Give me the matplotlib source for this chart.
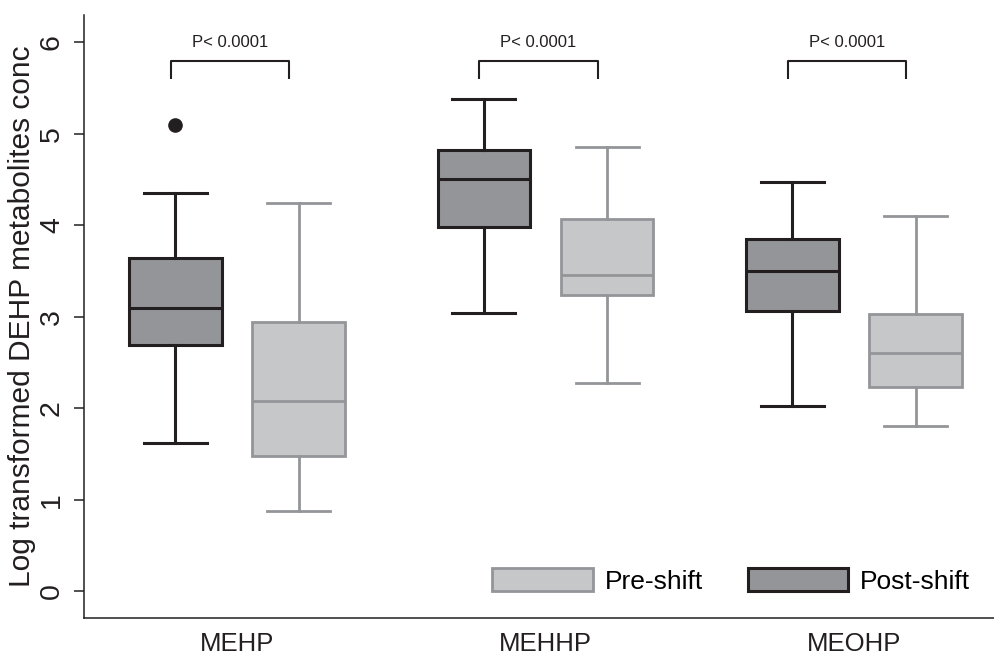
import matplotlib
matplotlib.use("Agg")
import matplotlib.pyplot as plt
from matplotlib.patches import Patch

plt.rcParams['font.family'] = ['Liberation Sans', 'DejaVu Sans']

# metabolites and box stats (log scale)
metabolites = ["MEHP", "MEHHP", "MEOHP"]

post_low = [1.62, 3.04, 2.03]
post_q1 = [2.69, 3.98, 3.07]
post_med = [3.10, 4.51, 3.50]
post_q3 = [3.65, 4.83, 3.85]
post_high = [4.35, 5.38, 4.47]
post_fliers = [[5.10], [], []]

pre_low = [0.88, 2.28, 1.81]
pre_q1 = [1.48, 3.24, 2.24]
pre_med = [2.08, 3.46, 2.61]
pre_q3 = [2.94, 4.07, 3.03]
pre_high = [4.25, 4.86, 4.10]
pre_fliers = [[], [], []]

p_labels = ["P< 0.0001", "P< 0.0001", "P< 0.0001"]

POST_FILL, POST_EDGE = "#949598", "#231f20"
PRE_FILL, PRE_EDGE = "#c6c7c9", "#939598"


def make_stats(low, q1, med, q3, high, fliers):
    return [dict(whislo=a, q1=b, med=c, q3=d, whishi=e, fliers=f)
            for a, b, c, d, e, f in zip(low, q1, med, q3, high, fliers)]


fig = plt.figure(figsize=(9.94, 6.54), dpi=100)
ax = fig.add_axes([0.0842, 0.055, 0.9158, 0.922])

groups = [1, 2, 3]
off = 0.2
width = 0.3

def draw(stats, pos, fill, edge, lw):
    ax.bxp(stats, positions=pos, widths=width, patch_artist=True,
           showfliers=True, manage_ticks=False,
           boxprops=dict(facecolor=fill, edgecolor=edge, linewidth=lw),
           medianprops=dict(color=edge, linewidth=lw),
           whiskerprops=dict(color=edge, linewidth=lw),
           capprops=dict(color=edge, linewidth=lw),
           capwidths=0.205,
           flierprops=dict(marker='o', markerfacecolor='#231f20',
                           markeredgecolor='#231f20', markersize=9.5))

draw(make_stats(post_low, post_q1, post_med, post_q3, post_high, post_fliers),
     [g - off for g in groups], POST_FILL, POST_EDGE, 2.2)
draw(make_stats(pre_low, pre_q1, pre_med, pre_q3, pre_high, pre_fliers),
     [g + off for g in groups], PRE_FILL, PRE_EDGE, 2.0)

# significance brackets
for g, lab in zip(groups, p_labels):
    x0, x1 = g - off - 0.015, g + off - 0.03
    ax.plot([x0, x0, x1, x1], [5.60, 5.80, 5.80, 5.60], color="#231f20", lw=1.5,
            solid_capstyle='butt')
    ax.text((x0 + x1) / 2, 5.92, lab, ha='center', va='bottom', fontsize=12,
            color="#231f20")

ax.set_xlim(0.503, 3.454)
ax.set_ylim(-0.29, 6.3)
ax.set_xticks(groups)
ax.set_xticklabels(metabolites, fontsize=18.5, color="#231f20")
ax.set_yticks(range(0, 7))
ax.set_yticklabels([str(i) for i in range(7)], fontsize=20.5, rotation=90,
                   va='center', color="#231f20")
ax.tick_params(axis='x', length=0, pad=10)
ax.tick_params(axis='y', length=7.5, width=1.1, color="#231f20", pad=6)
ax.set_ylabel("Log transformed DEHP metabolites conc", fontsize=21.5,
              color="#231f20", labelpad=2)

for s in ['top', 'right']:
    ax.spines[s].set_visible(False)
for s in ['left', 'bottom']:
    ax.spines[s].set_color("#231f20")
    ax.spines[s].set_linewidth(1.1)

handles = [Patch(facecolor=PRE_FILL, edgecolor=PRE_EDGE, linewidth=2.0, label="Pre-shift"),
           Patch(facecolor=POST_FILL, edgecolor=POST_EDGE, linewidth=2.2, label="Post-shift")]
ax.legend(handles=handles, loc='center right', bbox_to_anchor=(0.985, 0.062),
          ncol=2, frameon=False, fontsize=19, handlelength=3.8, handleheight=1.0,
          handletextpad=0.45, columnspacing=1.7, borderaxespad=0)

fig.savefig("out.png", dpi=100)
